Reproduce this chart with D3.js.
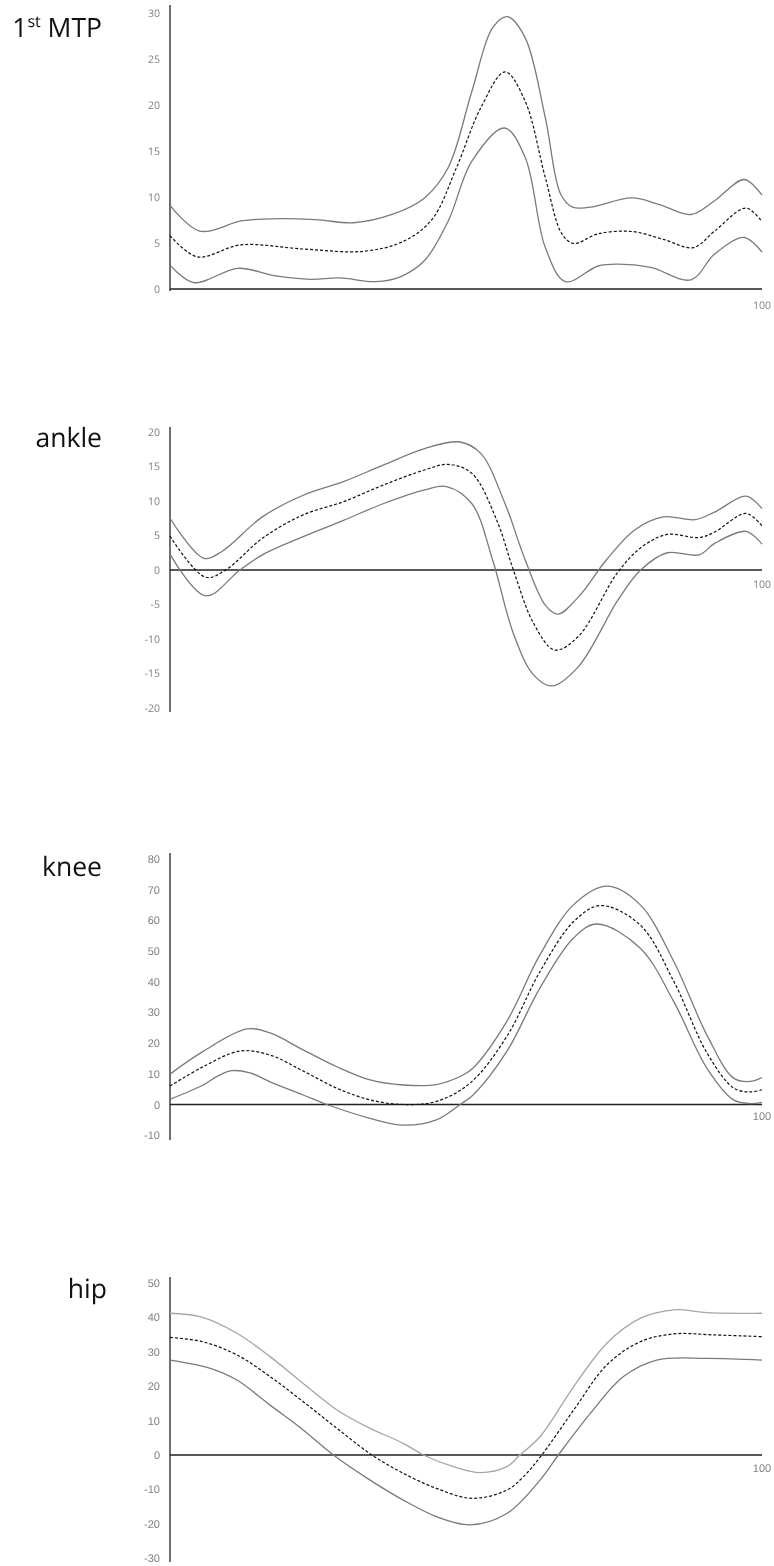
<!DOCTYPE html>
<html>
<head>
<meta charset="utf-8">
<script src="https://cdn.jsdelivr.net/npm/d3@7"></script>
<style>
  html, body { margin: 0; padding: 0; background: #fff; }
  svg { display: block; will-change: transform; }
  svg text { text-rendering: geometricPrecision; }
</style>
</head>
<body>
<svg id="chart" width="774" height="1566"></svg>
<script>
// ---------------- DATA (percent of cycle, angle in degrees) ----------------
const panelNames = ["1st MTP", "ankle", "knee", "hip"];
const xEndLabel = "100";

const mtpTicks = [0, 5, 10, 15, 20, 25, 30];
const ankleTicks = [-20, -15, -10, -5, 0, 5, 10, 15, 20];
const kneeTicks = [-10, 0, 10, 20, 30, 40, 50, 60, 70, 80];
const hipTicks = [-30, -20, -10, 0, 10, 20, 30, 40, 50];

const mtpUpper = [[0,9.1],[5,6.3],[12,7.4],[15.6,7.6],[24.5,7.55],[31,7.2],[37.5,8.1],[43,9.9],[47,13.2],[51,21.5],[54.5,28.4],[57,29.6],[60,27.3],[63.4,18.6],[66,10.3],[68,8.9],[71,8.9],[78,9.9],[82.6,9.2],[88,8.1],[92,9.6],[97,11.9],[100,10.2]];
const mtpMean = [[0,5.8],[4.6,3.5],[12,4.8],[22.4,4.35],[32.7,4.1],[39.5,5.2],[44.3,7.6],[48.4,13.2],[52.5,19.7],[56.6,23.6],[60,20.4],[63.4,12.1],[66.2,6.0],[68.2,4.95],[72.3,6.0],[78,6.25],[83.3,5.4],[88.4,4.5],[92,6.3],[97.3,8.8],[100,7.3]];
const mtpLower = [[0,2.6],[4,0.7],[11.5,2.25],[17.6,1.45],[23.8,1.05],[28.6,1.2],[34.7,0.8],[38.8,1.3],[43,3.1],[47,7.4],[51,13.9],[56.5,17.5],[60,14.3],[63.4,4.5],[66.8,0.8],[72.3,2.5],[75.7,2.7],[81.2,2.35],[88,1.0],[92,3.8],[97,5.6],[100,4.0]];

const ankleUpper = [[0,7.5],[5.7,1.7],[8.7,2.65],[15.6,7.7],[22.4,10.8],[29.3,12.8],[36,15.2],[43,17.6],[49,18.55],[52.5,16.9],[56.6,9.6],[60,1.45],[63.4,-5.1],[65.5,-6.4],[69,-3.9],[73.7,1.45],[78.5,5.8],[83.3,7.7],[88.7,7.3],[92,8.4],[97.3,10.7],[100,8.9]];
const ankleMean = [[0,4.9],[6,-1.05],[9.4,0],[15.6,4.6],[22.4,7.95],[29.3,9.9],[36,12.3],[43,14.5],[47,15.3],[51,14.0],[55.2,7.2],[58,0],[61.4,-7.7],[65,-11.6],[69,-9.6],[75.7,-0.25],[79.8,3.4],[84,5.15],[89.4,4.7],[92,5.5],[97.3,8.2],[100,6.4]];
const ankleLower = [[0,2.3],[6,-3.75],[11.8,0],[15.6,2.2],[22.4,4.8],[29.3,7.2],[36,9.6],[43,11.6],[46.7,12.1],[51,9.6],[54.5,1.45],[58,-9.2],[61.4,-15.2],[64.5,-16.8],[69,-14.0],[75.7,-4.3],[79.5,0],[84,2.5],[89.4,2.2],[92,3.85],[97.3,5.6],[100,3.75]];

const kneeUpper = [[0,9.9],[5.6,17.3],[13,24.6],[16.9,23.3],[22.5,17.8],[28.2,12.3],[33.8,8.0],[39.4,6.35],[45,6.5],[49.5,9.6],[51.2,11.9],[56.9,27.1],[62.5,48.8],[68.2,65.1],[73.8,71.1],[79.4,65.1],[85.1,46.6],[90.7,22.6],[95.2,8.6],[98,7.5],[100,8.8]];
const kneeMean = [[0,6.0],[5.6,12.3],[11.8,17.4],[16.9,16.1],[22.5,10.9],[28.2,5.3],[33.8,1.5],[39.4,0],[45,1.0],[50.7,7.0],[56.9,22.2],[62.5,43.3],[68.2,59.6],[72.7,64.8],[79.4,58.5],[85.1,40.1],[90.7,16.8],[95.2,5.4],[98,4.1],[100,4.8]];
const kneeLower = [[0,1.7],[5.6,6.35],[7.9,9.1],[10.4,11.0],[13.5,10.3],[16.9,7.4],[22.5,3.1],[26.5,0],[33.8,-4.5],[39.4,-6.7],[45,-5.0],[49,0],[51.2,3.1],[56.9,17.3],[62.5,38.0],[68.2,54.3],[72.1,58.8],[79.4,51.0],[85.1,33.5],[90.7,11.8],[95.2,1.5],[98,0.3],[100,0.7]];

const hipUpper = [[0,41.2],[5.1,40.2],[11.3,35.4],[16.9,28.6],[22.5,20.8],[28.2,13.1],[33.8,7.75],[39.4,3.4],[42.8,0],[47.9,-3.4],[52.4,-5.1],[56.9,-3.4],[59.1,0],[62.5,5.3],[68.2,19.9],[73.8,32.5],[79.4,39.7],[85.1,42.2],[90.7,41.4],[100,41.2]];
const hipMean = [[0,34.2],[5.6,32.9],[11.3,29.1],[16.9,22.8],[22.5,15.5],[28.2,7.75],[34.1,0],[39.4,-5.3],[45,-9.7],[51,-12.6],[56.9,-10.2],[59.7,-6.3],[62.8,0],[68.2,13.1],[73.8,26.2],[79.4,32.9],[85.1,35.2],[92,34.9],[100,34.4]];
const hipLower = [[0,27.6],[6.8,25.2],[11.3,21.8],[16.9,14.5],[22.5,7.3],[27.6,0],[33.8,-7.3],[39.4,-13.1],[45,-17.9],[50.7,-20.3],[56.9,-17.0],[62.5,-7.3],[65.6,0],[71,12.1],[76.6,22.8],[82.2,27.6],[90.7,28.1],[100,27.6]];

// ---------------- LAYOUT ----------------
const panels = [
  { title: panelNames[0], ticks: mtpTicks, upper: mtpUpper, mean: mtpMean, lower: mtpLower,
    domain: [0, 30], range: [289, 13], axisTop: 5, axisBottom: 291, font: "'Open Sans', 'Noto Sans', sans-serif", fsize: 10.5,
    titleX: 102, titleY: 37, endLabelDy: 17, upperColor: "#7a7a7a" },
  { title: panelNames[1], ticks: ankleTicks, upper: ankleUpper, mean: ankleMean, lower: ankleLower,
    domain: [-20, 20], range: [708, 432], axisTop: 427, axisBottom: 712, font: "'Open Sans', 'Noto Sans', sans-serif", fsize: 10.5,
    titleX: 102, titleY: 447, endLabelDy: 15, upperColor: "#7a7a7a" },
  { title: panelNames[2], ticks: kneeTicks, upper: kneeUpper, mean: kneeMean, lower: kneeLower,
    domain: [-10, 80], range: [1135.2, 858.9], axisTop: 853, axisBottom: 1140, font: "'Liberation Sans', Arial, sans-serif", fsize: 11,
    titleX: 102, titleY: 876, endLabelDy: 13, upperColor: "#7a7a7a" },
  { title: panelNames[3], ticks: hipTicks, upper: hipUpper, mean: hipMean, lower: hipLower,
    domain: [-30, 50], range: [1558.2, 1283], axisTop: 1277, axisBottom: 1562, font: "'Liberation Sans', Arial, sans-serif", fsize: 11,
    titleX: 107, titleY: 1298, endLabelDy: 14, upperColor: "#a6a6a6" }
];

const svg = d3.select("#chart");
const x = d3.scaleLinear().domain([0, 100]).range([170, 762]);

panels.forEach((p, i) => {
  const y = d3.scaleLinear().domain(p.domain).range(p.range);
  const g = svg.append("g");

  // title
  const t = g.append("text")
    .attr("x", p.titleX).attr("y", p.titleY)
    .attr("text-anchor", "end")
    .attr("font-family", "'Open Sans', 'Noto Sans', sans-serif")
    .attr("font-size", 26.5)
    .attr("fill", "#111");
  if (i === 0) {
    t.append("tspan").text("1");
    t.append("tspan").attr("font-size", 16).attr("dy", -10).text("st");
    t.append("tspan").attr("dy", 10).text(" MTP");
  } else {
    t.text(p.title);
  }

  // y tick labels (no tick marks), plain hyphen-minus as in the source
  const yAxis = d3.axisLeft(y).tickValues(p.ticks).tickSize(0).tickPadding(10).tickFormat(d => String(d));
  const ya = g.append("g").attr("transform", `translate(${x(0)},0)`).call(yAxis);
  ya.select(".domain").remove();
  ya.selectAll("text")
    .attr("font-family", p.font)
    .attr("font-size", p.fsize)
    .attr("fill", "#808080");

  // y axis line
  g.append("line")
    .attr("x1", x(0)).attr("x2", x(0))
    .attr("y1", p.axisTop).attr("y2", p.axisBottom)
    .attr("stroke", "#222").attr("stroke-width", 1.3);

  // zero / x axis line
  g.append("line")
    .attr("x1", x(0)).attr("x2", x(100))
    .attr("y1", y(0)).attr("y2", y(0))
    .attr("stroke", "#222").attr("stroke-width", 1.3);

  // "100" label
  g.append("text")
    .attr("x", x(100)).attr("y", y(0) + p.endLabelDy)
    .attr("text-anchor", "middle")
    .attr("dominant-baseline", "middle")
    .attr("font-family", p.font)
    .attr("font-size", p.fsize)
    .attr("fill", "#808080")
    .text(xEndLabel);

  const line = d3.line()
    .x(d => x(d[0]))
    .y(d => y(d[1]))
    .curve(d3.curveCatmullRom.alpha(0.5));

  g.append("path").attr("d", line(p.upper))
    .attr("fill", "none").attr("stroke", p.upperColor).attr("stroke-width", 1.3);
  g.append("path").attr("d", line(p.lower))
    .attr("fill", "none").attr("stroke", "#7a7a7a").attr("stroke-width", 1.3);
  g.append("path").attr("d", line(p.mean))
    .attr("fill", "none").attr("stroke", "#111").attr("stroke-width", 1.2)
    .attr("stroke-dasharray", "3,2");
});
</script>
</body>
</html>
